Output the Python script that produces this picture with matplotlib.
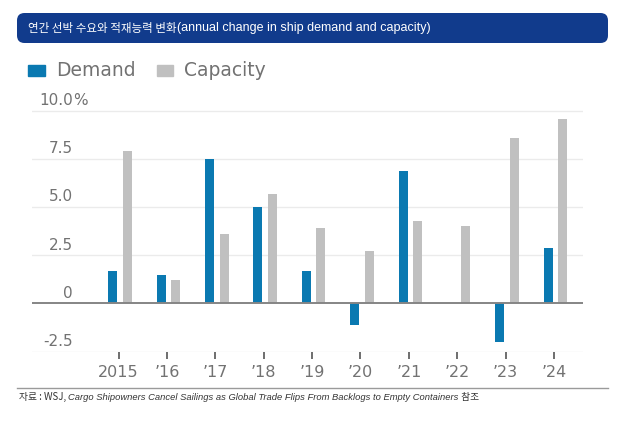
import matplotlib.pyplot as plt
from matplotlib.patches import FancyBboxPatch, Rectangle
import numpy as np

# data
years = ['2015', '’16', '’17', '’18', '’19', '’20', '’21', '’22', '’23', '’24']
demand = [1.7, 1.5, 7.5, 5.0, 1.7, -1.1, 6.9, 0.0, -2.0, 2.9]
capacity = [7.9, 1.2, 3.6, 5.7, 3.9, 2.7, 4.3, 4.0, 8.6, 9.6]
yticks = [-2.5, 0, 2.5, 5.0, 7.5, 10.0]
ytick_labels = ['-2.5', '0', '2.5', '5.0', '7.5', '10.0']

title_kr = '연간 선박 수요와 적재능력 변화'
title_en = '(annual change in ship demand and capacity)'

blue = '#0a79b1'
grey = '#c0c0c0'
text_grey = '#727272'
navy = '#113b8c'

W, H = 624, 430
KR = ['Noto Sans CJK KR', 'DejaVu Sans']
EN = ['Liberation Sans', 'Noto Sans CJK KR']


def fx(x):
    return x / W


def fy(y):
    # y measured from the top in pixels
    return 1 - y / H


fig = plt.figure(figsize=(W / 100, H / 100), dpi=100)
fig.patch.set_facecolor('white')
renderer = fig.canvas.get_renderer()

# title bar
bar = FancyBboxPatch((fx(17), fy(43)), fx(591), 30 / H,
                     boxstyle='round,pad=0,rounding_size=0.012',
                     transform=fig.transFigure, facecolor=navy,
                     edgecolor='none', mutation_aspect=W / H)
fig.patches.append(bar)
t = fig.text(fx(28), fy(28.5), title_kr, color='white', fontsize=8.3,
             family=KR, va='center', ha='left', weight='medium')
xe = fx(28) + t.get_window_extent(renderer).width / W
fig.text(xe, fy(28.5), title_en, color='white', fontsize=9.0,
         family=EN, va='center', ha='left')

# legend drawn by hand
fig.patches.append(Rectangle((fx(28), fy(76)), fx(17), 11 / H,
                             transform=fig.transFigure, color=blue))
fig.patches.append(Rectangle((fx(157), fy(76)), fx(16), 11 / H,
                             transform=fig.transFigure, color=grey))
fig.text(fx(56), fy(70.5), 'Demand', color=text_grey, fontsize=13.5,
         va='center', ha='left')
fig.text(fx(184), fy(70.5), 'Capacity', color=text_grey, fontsize=13.5,
         va='center', ha='left')

# main axes
ax = fig.add_axes([fx(32), fy(351.5), fx(583 - 32), (351.5 - 105.2) / H])
x = np.arange(len(years))
w = 0.186
ax.bar(x - 0.12, demand, w, color=blue, zorder=3)
ax.bar(x + 0.18, capacity, w, color=grey, zorder=3)

ax.set_xlim(-1.79, 9.6)
ax.set_ylim(-2.5, 10.3)

for v in yticks:
    if v == 0:
        ax.axhline(0, color='#858585', lw=1.4, zorder=4)
    else:
        ax.axhline(v, color='#ebebeb', lw=1.0, zorder=1)

lab_x = (73 - 118.5) / 48.4
for v, lab in zip(yticks, ytick_labels):
    ax.annotate(lab, (lab_x, v), xytext=(0, 2), textcoords='offset points',
                ha='right', va='bottom', fontsize=11, color=text_grey,
                zorder=5)
ax.annotate('%', (lab_x, 10.0), xytext=(0, 2), textcoords='offset points',
            ha='left', va='bottom', fontsize=11, color=text_grey)

ax.set_xticks(x)
ax.set_xticklabels(years, fontsize=11.5, color=text_grey)
ax.tick_params(axis='x', length=5, width=1.2, color='#555555', pad=5)
ax.set_yticks([])
for s in ax.spines.values():
    s.set_visible(False)
ax.patch.set_alpha(0)

# footer line and source note
fig.add_artist(plt.Line2D([fx(17), fx(608)], [fy(388), fy(388)],
                          color='#9a9a9a', lw=1.0, transform=fig.transFigure))

pieces = [('자료 : WSJ, ', 'normal', KR, 7.0),
          ('Cargo Shipowners Cancel Sailings as Global Trade Flips From '
           'Backlogs to Empty Containers', 'italic', EN, 6.75),
          (' 참조', 'normal', KR, 7.0)]
xpos = fx(19)
for txt, style, fam, size in pieces:
    t = fig.text(xpos, fy(397), txt, fontsize=size, family=fam, style=style,
                 color='#333333', va='center', ha='left')
    xpos += t.get_window_extent(renderer).width / W

fig.savefig('out.png', dpi=100)
